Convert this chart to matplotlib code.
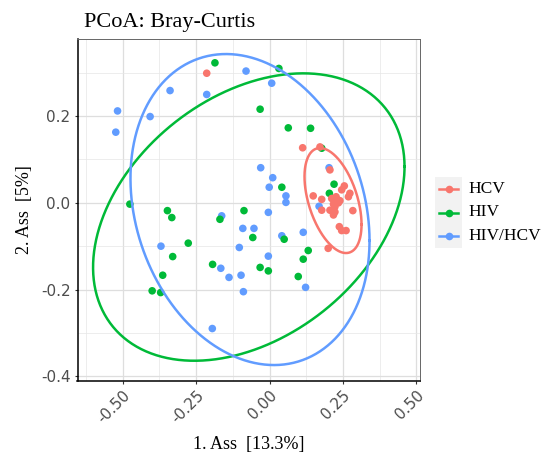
import numpy as np
import matplotlib.pyplot as plt
from matplotlib.lines import Line2D
from matplotlib.patches import Rectangle

# group names and colours
groups = ["HCV", "HIV", "HIV/HCV"]
colors = ["#F8766D", "#00BA38", "#619CFF"]

# PCoA coordinates (axis 1, axis 2) per group
hcv_x = [-0.214, 0.113, 0.172, 0.206, 0.246, 0.274, 0.149, 0.178, 0.212, 0.229,
         0.235, 0.269, 0.218, 0.178, 0.206, 0.223, 0.218, 0.284, 0.238, 0.246,
         0.261, 0.223, 0.240, 0.227, 0.200, 0.255]
hcv_y = [0.299, 0.127, 0.129, 0.076, 0.030, 0.022, 0.016, 0.008, 0.010, 0.008,
         0.000, 0.014, -0.003, -0.017, -0.017, -0.021, -0.028, -0.018, -0.055, -0.064,
         -0.064, -0.009, 0.005, 0.014, -0.105, 0.039]

hiv_x = [-0.186, 0.032, -0.032, 0.064, 0.140, 0.178, 0.042, 0.220, 0.204, -0.476,
         -0.348, -0.333, -0.087, -0.169, -0.057, 0.050, -0.277, -0.330, 0.132, 0.115,
         -0.032, -0.004, 0.098, -0.194, -0.364, -0.400, -0.371]
hiv_y = [0.323, 0.310, 0.216, 0.173, 0.172, 0.126, 0.036, 0.043, 0.022, -0.003,
         -0.018, -0.034, -0.018, -0.038, -0.080, -0.084, -0.093, -0.124, -0.110, -0.130,
         -0.149, -0.157, -0.170, -0.142, -0.167, -0.203, -0.207]

coinf_x = [-0.080, 0.0075, -0.339, -0.214, -0.518, -0.407, -0.524, -0.030, 0.011, -0.001,
           0.056, 0.056, 0.203, 0.169, -0.004, -0.163, -0.053, -0.091, 0.042, 0.115,
           -0.103, -0.370, -0.004, -0.166, -0.138, -0.097, -0.089, 0.123, -0.195]
coinf_y = [0.304, 0.276, 0.259, 0.250, 0.212, 0.199, 0.163, 0.081, 0.058, 0.036,
           0.016, 0.001, 0.081, -0.008, -0.022, -0.030, -0.059, -0.059, -0.076, -0.068,
           -0.103, -0.100, -0.123, -0.151, -0.172, -0.167, -0.205, -0.195, -0.290]

# 95% ellipse per group: centre and shape matrix [[sxx, sxy], [sxy, syy]]
ell_center = [(0.2165, 0.0053), (-0.0706, -0.0328), (-0.0665, -0.0155)]
ell_shape = [[[0.00944, -0.00537], [-0.00537, 0.01467]],
             [[0.2818, 0.0616], [0.0616, 0.1099]],
             [[0.1660, -0.02935], [-0.02935, 0.1287]]]

xs = [hcv_x, hiv_x, coinf_x]
ys = [hcv_y, hiv_y, coinf_y]

plt.rcParams['font.family'] = ['Liberation Serif', 'DejaVu Serif']

W, H = 547, 457
fig = plt.figure(figsize=(W / 100, H / 100), dpi=100)
ax = fig.add_axes([77.5 / W, 1 - 380.6 / H, 342.6 / W, 342.1 / H])

# points: co-infected first so the others sit on top
for i in [2, 1, 0]:
    ax.scatter(xs[i], ys[i], s=30, color=colors[i], edgecolors='none', zorder=3)

# ellipses
t = np.linspace(0, 2 * np.pi, 300)
circle = np.vstack([np.cos(t), np.sin(t)])
ell_pts = []
for i in range(3):
    L = np.linalg.cholesky(np.array(ell_shape[i]))
    pts = L @ circle + np.array(ell_center[i])[:, None]
    ell_pts.append(pts)
    ax.plot(pts[0], pts[1], color=colors[i], lw=1.8, zorder=4)

# limits: data + ellipses with 5% expansion
all_x = np.concatenate([np.concatenate(xs)] + [p[0] for p in ell_pts])
all_y = np.concatenate([np.concatenate(ys)] + [p[1] for p in ell_pts])
dx = (all_x.max() - all_x.min()) * 0.05
dy = (all_y.max() - all_y.min()) * 0.05
ax.set_xlim(all_x.min() - dx, all_x.max() + dx)
ax.set_ylim(all_y.min() - dy, all_y.max() + dy)

xticks = [-0.50, -0.25, 0.00, 0.25, 0.50]
yticks = [-0.4, -0.2, 0.0, 0.2]
ax.set_xticks(xticks)
ax.set_xticklabels(["%.2f" % v for v in xticks], rotation=45, ha='right',
                   rotation_mode='anchor', family='DejaVu Sans', color='#4D4D4D', fontsize=11)
ax.set_yticks(yticks)
ax.set_yticklabels(["%.1f" % v for v in yticks], family='DejaVu Sans',
                   color='#4D4D4D', fontsize=11)
ax.set_xticks([-0.625, -0.375, -0.125, 0.125, 0.375], minor=True)
ax.set_yticks([-0.3, -0.1, 0.1, 0.3], minor=True)
ax.tick_params(which='major', length=2.5, width=0.8, color='#333333', pad=2.5)
ax.tick_params(which='minor', length=0)
ax.grid(which='major', color='#DEDEDE', lw=0.9, zorder=0)
ax.grid(which='minor', color='#E6E6E6', lw=0.5, zorder=0)
ax.set_axisbelow(True)

for s in ['left', 'bottom']:
    ax.spines[s].set_color('black')
    ax.spines[s].set_linewidth(1.1)
for s in ['top', 'right']:
    ax.spines[s].set_color('#666666')
    ax.spines[s].set_linewidth(0.7)

ax.set_title("PCoA: Bray-Curtis", loc='left', fontsize=16, pad=8, x=0.02)
ax.set_xlabel("1. Ass  [13.3%]", fontsize=13, labelpad=7)
ax.set_ylabel("2. Ass  [5%]", fontsize=13, labelpad=6)

# legend drawn by hand: grey key column with line + dot
fig.add_artist(Rectangle((435 / W, 1 - 248 / H), 27 / W, 71 / H,
                         transform=fig.transFigure, facecolor='#F2F2F2', edgecolor='none'))
for i, g in enumerate(groups):
    yc = 1 - (189 + 23.5 * i) / H
    fig.add_artist(Line2D([439 / W, 458 / W], [yc, yc], transform=fig.transFigure,
                          color=colors[i], lw=1.8))
    fig.add_artist(Line2D([448.5 / W], [yc], transform=fig.transFigure, marker='o',
                          markersize=5.5, color=colors[i], markeredgewidth=0))
    fig.text(468 / W, yc, g, fontsize=12.5, va='center', ha='left')

fig.savefig("out.png", dpi=100)
